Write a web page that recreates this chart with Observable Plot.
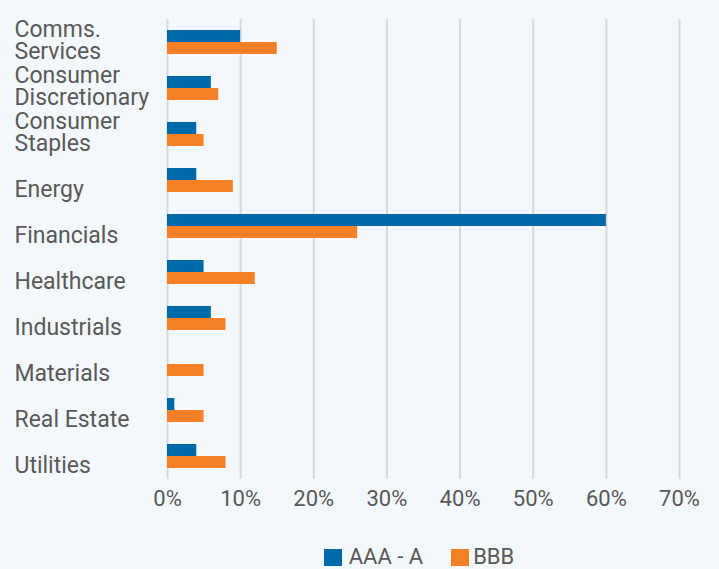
<!DOCTYPE html>
<html><head><meta charset="utf-8">
<script src="https://cdn.jsdelivr.net/npm/d3@7"></script>
<script src="https://cdn.jsdelivr.net/npm/@observablehq/plot@0.6"></script>
<style>
html,body{margin:0;padding:0;background:#f3f8fc;}
body{width:719px;height:569px;overflow:hidden;font-family:Roboto,"DejaVu Sans",sans-serif;}
#chart svg{display:block;}
#legend{display:flex;justify-content:center;align-items:center;font-size:22px;line-height:22px;color:#595959;margin-top:11px;padding-left:119px;}
.sw{display:inline-block;width:18px;height:17px;}
.item{display:flex;align-items:center;}
</style></head><body>
<div id="chart"></div>
<div id="legend"></div>
<script>
const categories = ["Comms.\nServices","Consumer\nDiscretionary","Consumer\nStaples","Energy","Financials","Healthcare","Industrials","Materials","Real Estate","Utilities"];
const seriesNames = ["AAA - A","BBB"];
const aaaA = [10,6,4,4,60,5,6,0,1,4];
const bbb = [15,7,5,9,26,12,8,5,5,8];
const colors = ["#0069aa","#f58025"];
const xTicks = [0,10,20,30,40,50,60,70];

const rows = [];
categories.forEach((c,i)=>{ rows.push({cat:c, series:seriesNames[0], value:aaaA[i]}); rows.push({cat:c, series:seriesNames[1], value:bbb[i]}); });

const plot = Plot.plot({
  width:719, height:535,
  marginLeft:167, marginRight:40, marginTop:19, marginBottom:56,
  style:{background:"transparent", fontFamily:"Roboto, sans-serif", fontSize:"22px", color:"#595959"},
  x:{domain:[0,70], ticks:xTicks, tickFormat:d=>d+"%", label:null},
  y:{domain:categories, padding:0, label:null, axis:null},
  color:{domain:seriesNames, range:colors},
  marks:[
    Plot.gridX(xTicks,{stroke:"#d9d9d9", strokeOpacity:1, strokeWidth:2}),
    Plot.axisX({ticks:xTicks, tickFormat:d=>d+"%", tickSize:0, tickPadding:11, fontSize:22, fill:"#595959", label:null}),
    Plot.barX(rows.filter(d=>d.series===seriesNames[0]),{x:"value", y:"cat", fill:"series", insetTop:17, insetBottom:17, dy:-6}),
    Plot.barX(rows.filter(d=>d.series===seriesNames[1]),{x:"value", y:"cat", fill:"series", insetTop:17, insetBottom:17, dy:6}),
    Plot.text(categories,{y:d=>d, text:d=>d, frameAnchor:"left", textAnchor:"start", lineAnchor:"bottom", dx:-153, dy:16, fontSize:23, fill:"#595959", lineHeight:0.93})
  ]
});
document.getElementById("chart").appendChild(plot);

const lg = document.getElementById("legend");
seriesNames.forEach((s,i)=>{
  const it = document.createElement("span"); it.className="item";
  it.style.marginRight = i===0 ? "28px" : "0";
  it.innerHTML = `<span class="sw" style="background:${colors[i]};margin-right:${i===0?7:4}px"></span>${s}`;
  lg.appendChild(it);
});
</script>
</body></html>
